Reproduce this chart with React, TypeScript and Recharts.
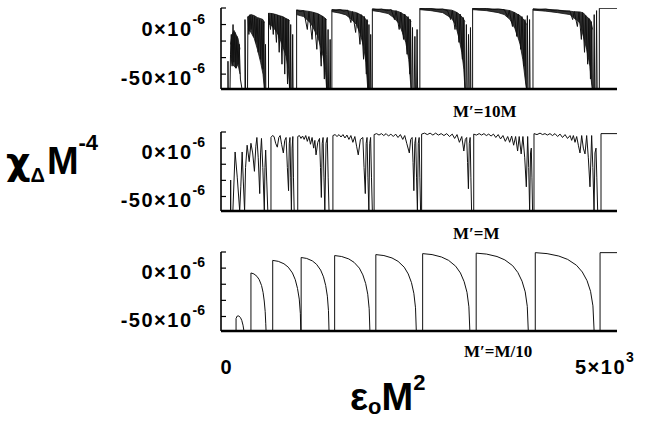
import React from 'react';
import { ComposedChart, Line, Area, XAxis, YAxis } from 'recharts';

// x in units of eps0*M^2, y in units of 1e-6 (chi_Delta * M^-4)

// M' = 10M : outline + spikes
const topLine: [number, number][] = [
  [0, -65], [88, -65], [88, -37], [90, -65], [114, -65], [120, -30], [130, -10], [140, -42], [152, 0], [162, -38],
  [175, -8], [188, -44], [200, -12], [215, -40], [230, -20], [245, -55], [265, -65], [303, -65], [303, 5], [310, -65],
  [335, -65], [340, 8], [352, -10], [366, 10], [380, -5], [395, 9], [410, -12], [425, 8], [440, -18], [455, 6],
  [470, -28], [485, 5], [500, -35], [515, 4], [530, -45], [540, 3], [548, -65], [556, -65], [562, -20], [566, -65],
  [600, -65], [600, 11.4], [625, -5], [640, 11], [660, -10], [675, 10], [700, -18], [715, 9.5], [735, -28], [750, 8.5],
  [770, -40], [785, 7.5], [805, -50], [820, 6], [840, -60], [850, 5], [858, -30], [866, -65], [875, -65], [880, 0],
  [886, -65], [900, -65], [905, -10], [910, -65], [955, -65],
  [955, 14.7], [1000, 13], [1044, 14], [1090, -5], [1110, 13], [1150, -15], [1170, 12], [1210, -25], [1230, 10.5], [1265, -42],
  [1280, 8.5], [1305, -55], [1318, 6], [1328, -30], [1333, -65], [1345, -65], [1352, -5], [1358, -65], [1372, -65], [1378, -15],
  [1384, -65], [1400, -65],
  [1400, 15], [1450, 14], [1500, 15], [1550, 13.5], [1600, 14.5], [1640, 2], [1660, 13], [1700, -8], [1720, 11.5], [1755, -20],
  [1770, 10], [1800, -35], [1812, 8], [1835, -50], [1845, 5], [1853, -65], [1862, -65], [1868, 0], [1874, -65], [1885, -65],
  [1890, -10], [1896, -65], [1911, -65],
  [1911, 15.7], [1970, 15], [2030, 15.5], [2090, 14], [2150, 15], [2190, 5], [2210, 14], [2250, -5], [2270, 12.5], [2305, -15],
  [2320, 10.5], [2350, -30], [2362, 8], [2385, -50], [2393, 5], [2400, -65], [2410, -65], [2418, -3], [2425, -65], [2440, -65],
  [2448, -12], [2455, -65], [2470, -65], [2476, -5], [2482, -65], [2511, -65],
  [2511, 16.4], [2580, 15.5], [2650, 16], [2720, 15], [2800, 15.5], [2860, 14], [2900, 5], [2920, 14], [2955, -5], [2975, 12.5],
  [3005, -18], [3020, 10.5], [3048, -35], [3060, 7], [3075, -55], [3080, -65], [3090, -65], [3098, 0], [3105, -65], [3118, -65],
  [3125, -10], [3132, -65], [3145, -65], [3150, -3], [3155, -65], [3177, -65],
  [3177, 16.4], [3260, 15.5], [3350, 16], [3430, 15], [3500, 15.5], [3577, 15], [3620, 8], [3640, 14], [3680, -2], [3700, 12.5],
  [3735, -12], [3752, 10.5], [3785, -25], [3800, 8], [3825, -42], [3838, 5], [3850, -58], [3858, -65], [3862, -65], [3868, 9],
  [3874, -65], [3890, -65], [3896, 5], [3902, -65], [3939, -65],
  [3939, 15.7], [4020, 15], [4100, 15.5], [4180, 14.5], [4250, 14.5], [4330, 13.5], [4406, 13.5], [4440, 5], [4460, 13], [4500, -2],
  [4520, 12.5], [4550, -15], [4565, 12], [4590, -28], [4605, 9], [4630, -40], [4645, 6], [4665, -55], [4675, 3], [4687, -65],
  [4705, -65], [4712, 10], [4718, -65], [4735, -65], [4742, 14], [4749, -65], [4777, -65], [4777, 16.4], [5000, 16.4],
];

// M' = 10M : dense oscillation bands [x, low, high]
const topBands: [number, number, number][][] = [
  [[120, -30, -20], [140, -40, -10], [165, -42, -6], [190, -44, -10], [215, -40, -14], [240, -50, -25]],
  [[340, -5, 8], [380, -8, 10], [420, -14, 9], [460, -25, 7], [500, -38, 6], [530, -50, 5], [548, -65, 2]],
  [[600, 1, 11.4], [650, -2, 11], [700, -7, 10], [733, -12, 9], [780, -22, 8], [822, -32, 6], [850, -45, 5], [866, -65, 4]],
  [[955, 10, 14.7], [1044, 8, 14], [1133, 1.4, 13], [1222, -12, 11], [1289, -32, 8], [1320, -48, 6], [1333, -65, 5]],
  [[1400, 13, 15], [1500, 11.5, 15], [1578, 9.7, 14.5], [1650, 5, 13], [1711, 0, 12], [1760, -10, 10], [1800, -22, 8], [1830, -38, 5], [1853, -65, 3]],
  [[1911, 14, 15.7], [2000, 13, 15.5], [2111, 11, 15], [2180, 7, 14], [2244, 1.4, 13], [2290, -8, 11], [2333, -18, 9], [2370, -35, 6], [2400, -65, 3]],
  [[2511, 15, 16.4], [2650, 14, 16], [2800, 12, 15.5], [2911, 6.4, 14.5], [2960, 0, 13], [3000, -12, 11], [3040, -28, 8], [3066, -45, 5], [3080, -65, 3]],
  [[3177, 15, 16.4], [3350, 14, 16], [3500, 12, 15.5], [3577, 10, 15], [3650, 5, 14], [3711, -4, 12], [3750, -13, 10], [3777, -20, 9], [3810, -35, 6], [3840, -55, 3], [3858, -65, 0]],
  [[3939, 14.5, 15.7], [4100, 13.5, 15.5], [4250, 12, 14.5], [4406, 10, 13.5], [4450, 7, 13], [4533, 1.7, 12.7], [4575, -12, 11.7], [4617, -25, 8], [4659, -42, 5], [4680, -60, 0], [4693, -65, -5]],
];

// M' = M
const midLine: [number, number][] = [
  [0, -65], [120, -65], [122, -33], [124, -65], [150, -65], [178, -4], [205, -30], [236, -65], [250, -40], [267, -4],
  [282, -35], [298, -65], [310, -20], [330, 3], [356, -14], [378, 5], [400, -5], [422, -24], [440, 2], [453, 11],
  [470, -10], [489, -47], [500, -5], [511, 10], [528, -20], [547, -65], [555, -20], [564, -2], [578, -35], [591, -65],
  [631, -65], [631, 11], [650, 13], [670, 12], [690, 5], [711, 1], [730, 11], [747, 13], [765, 4], [787, -5],
  [805, 8], [822, 11], [838, -20], [853, -44], [862, 5], [871, 11], [880, -30], [889, -65], [898, 0], [907, 12],
  [915, -30], [924, -65], [969, -65],
  [969, 12], [990, 13], [1010, 10], [1030, 12.5], [1050, 9], [1070, 13], [1090, 7], [1110, 12], [1130, 4], [1150, 11],
  [1170, 0], [1185, 8], [1200, -7], [1222, 6], [1244, 10], [1256, -20], [1267, -51], [1278, 5], [1289, 11], [1300, -30],
  [1311, -65], [1326, 5], [1342, 11], [1353, -30], [1364, -65], [1413, -65],
  [1413, 13], [1440, 14], [1465, 12], [1490, 14], [1515, 11.5], [1540, 14], [1565, 10.5], [1590, 13.5], [1615, 9], [1640, 13],
  [1665, 6], [1690, 12], [1712, 2], [1733, -7], [1760, 9], [1791, 11], [1806, -20], [1822, -47], [1833, 5], [1844, 11],
  [1855, -30], [1867, -65], [1878, 5], [1889, 11], [1900, -30], [1911, -65], [1933, -65],
  [1933, 14], [1965, 15], [1995, 13.5], [2025, 15], [2055, 13], [2085, 15], [2115, 12.5], [2145, 14.5], [2175, 12], [2205, 14.5],
  [2235, 11], [2265, 14], [2295, 9], [2320, 13], [2345, 5], [2378, -5], [2395, 9], [2413, 11], [2425, -15], [2435, -44],
  [2447, 5], [2458, 11], [2469, -30], [2480, -65], [2491, 5], [2502, 11], [2511, -30], [2520, -65], [2533, -65],
  [2533, 14.5], [2570, 15.5], [2605, 14], [2640, 15.5], [2675, 13.5], [2710, 15.5], [2745, 13.5], [2780, 15], [2815, 13], [2850, 15],
  [2885, 12], [2920, 14.5], [2950, 10], [2980, 14], [3010, 6], [3040, 12], [3066, -3], [3085, 9], [3102, 11], [3113, -15],
  [3124, -42], [3135, 5], [3146, 11], [3155, -30], [3164, -65], [3191, -65],
  [3191, 14.5], [3225, 13.5], [3260, 15], [3290, 13.5], [3320, 15], [3350, 13], [3380, 14.5], [3410, 12.5], [3440, 14.5], [3470, 11],
  [3500, 14], [3530, 9.5], [3560, 13], [3590, 7], [3620, 12], [3645, 6], [3670, 12.5], [3695, 3], [3720, 12], [3745, -3],
  [3765, 12], [3790, -6], [3812, 12], [3835, -10], [3855, -40], [3872, 12], [3885, -20], [3897, -65], [3908, -5], [3918, 0],
  [3926, -30], [3934, -65], [3952, -65],
  [3952, 15], [3990, 14], [4028, 15.5], [4060, 14], [4091, 15], [4120, 13.5], [4154, 15], [4185, 13], [4217, 15], [4250, 12],
  [4281, 14.5], [4312, 11], [4344, 14], [4375, 10], [4407, 13], [4428, 8], [4449, 13], [4470, 6], [4491, 12], [4512, 3],
  [4533, -5], [4554, 13], [4575, 0], [4596, -6], [4617, 13], [4638, -10], [4659, -40], [4680, 13], [4695, -20], [4710, -65],
  [4722, -5], [4735, 0], [4745, -30], [4756, -65], [4798, -65], [4798, 15], [5000, 15],
];

// M' = M/10
const lowLine: [number, number][] = [
  [0, -65], [190, -65], [190, -52], [205, -49.5], [225, -49.5], [245, -51], [262, -54], [278, -59], [290, -65],
  [378, -65], [378, -5], [416, -6], [454, -8.5], [483, -12], [512, -18], [531, -25], [546, -34], [558, -45], [565, -57], [569, -65],
  [653, -65], [653, 8], [724, 7], [795, 4.5], [849, 1], [902, -5], [938, -12], [966, -21], [988, -32], [1002, -47], [1007, -65],
  [1012, -65], [1012, 11], [1082, 10], [1153, 7.5], [1206, 4], [1258, -2], [1294, -9], [1322, -18], [1343, -29], [1357, -44], [1364, -65],
  [1435, -65], [1435, 13], [1524, 12], [1613, 9.5], [1680, 6], [1747, 0], [1791, -7], [1827, -16], [1853, -27], [1871, -42], [1880, -65],
  [1955, -65], [1955, 14], [2057, 13], [2159, 10.5], [2236, 7], [2313, 1], [2364, -6], [2405, -15], [2435, -26], [2456, -41], [2466, -65],
  [2546, -65], [2546, 15], [2665, 14], [2784, 11.5], [2874, 8], [2963, 2], [3023, -5], [3070, -14], [3106, -25], [3130, -40], [3142, -65],
  [3222, -65], [3222, 15.5], [3354, 14.5], [3485, 12], [3584, 8.5], [3683, 2.5], [3748, -4.5], [3801, -13.5], [3841, -24.5], [3867, -39.5], [3880, -65],
  [3968, -65], [3968, 16], [4117, 15], [4265, 12.5], [4377, 9], [4488, 3], [4562, -4], [4622, -13], [4666, -24], [4696, -39], [4711, -65],
  [4786, -65], [4786, 16], [5000, 16],
];

const yTicks = [16.67, 0, -16.67, -33.33, -50];
const xTicks = [0, 5000];
const panelLabels = ["M′=10M", "M′=M", "M′=M/10"];

const sans = 'Liberation Sans, Arial, sans-serif';
const serif = 'Liberation Serif, Times New Roman, serif';

const toPts = (arr: [number, number][]) => arr.map(([x, y]) => ({ x, y }));

const YTick = (props: any) => {
  const { x, y, payload } = props;
  const v = payload.value;
  const label = v === 0 ? '0×10' : v === -50 ? '-50×10' : null;
  return (
    <g>
      <line x1={x} x2={x + 5} y1={y} y2={y} stroke="#000" strokeWidth={1.2} />
      {label && (
        <text x={x - 16} y={y + 11} textAnchor="end" fontFamily={sans} fontWeight="bold" fontSize={20} letterSpacing={1.5} fill="#000">
          {label}
          <tspan dy={-12} fontSize={14} letterSpacing={0}>-6</tspan>
        </text>
      )}
    </g>
  );
};

const XTick = (props: any) => {
  const { x, y, payload } = props;
  if (payload.value === 0) {
    return (
      <text x={x + 5} y={y + 43} textAnchor="middle" fontFamily={sans} fontWeight="bold" fontSize={20} fill="#000">0</text>
    );
  }
  return (
    <text x={x - 42} y={y + 43} textAnchor="start" fontFamily={sans} fontWeight="bold" fontSize={20} letterSpacing={1.5} fill="#000">
      5×10
      <tspan dy={-12} fontSize={14} letterSpacing={0}>3</tspan>
    </text>
  );
};

type PanelProps = {
  top: number;
  height: number;
  mTop: number;
  mBottom: number;
  line: [number, number][];
  bands?: [number, number, number][][];
  showX?: boolean;
};

const Panel = ({ top, height, mTop, mBottom, line, bands, showX }: PanelProps) => (
  <div style={{ position: 'absolute', left: 0, top }}>
    <ComposedChart width={653} height={height} margin={{ top: mTop, right: 36, bottom: mBottom, left: 161 }}>
      <XAxis
        type="number"
        dataKey="x"
        domain={[0, 5000]}
        allowDataOverflow
        ticks={xTicks}
        tick={showX ? <XTick /> : false}
        tickLine={false}
        tickSize={0}
        tickMargin={0}
        height={showX ? 40 : 2}
        axisLine={{ stroke: '#000', strokeWidth: 2.5 }}
      />
      <YAxis
        type="number"
        domain={[-65, 16.67]}
        allowDataOverflow
        ticks={yTicks}
        interval={0}
        width={60}
        tick={<YTick />}
        tickLine={false}
        tickSize={0}
        tickMargin={0}
        axisLine={{ stroke: '#000', strokeWidth: 1.6 }}
      />
      {bands &&
        bands.map((b, i) => (
          <Area
            key={i}
            data={b.map(([x, lo, hi]) => ({ x, band: [lo, hi] }))}
            dataKey="band"
            type="linear"
            stroke="#111"
            strokeWidth={0.8}
            fill="#111"
            fillOpacity={0.85}
            isAnimationActive={false}
          />
        ))}
      <Line
        data={toPts(line)}
        dataKey="y"
        type="linear"
        stroke="#111"
        strokeWidth={1}
        dot={false}
        activeDot={false}
        isAnimationActive={false}
      />
    </ComposedChart>
  </div>
);

export default function App() {
  return (
    <div style={{ position: 'absolute', left: 0, top: 0, width: 653, height: 421, background: '#fff', overflow: 'hidden' }}>
      <Panel top={0} height={100} mTop={8} mBottom={9} line={topLine} bands={topBands} />
      <Panel top={120} height={100} mTop={12} mBottom={7} line={midLine} />
      <Panel top={240} height={150} mTop={12} mBottom={19} line={lowLine} showX />
      <svg width={653} height={421} style={{ position: 'absolute', left: 0, top: 0, pointerEvents: 'none' }}>
        <text x={6} y={174} fontFamily={sans} fontWeight="bold" fontSize={38} fill="#000">
          <tspan fontFamily="DejaVu Sans">χ</tspan>
          <tspan fontSize={20} dy={8}>Δ</tspan>
          <tspan dy={-8} dx={2}>M</tspan>
          <tspan fontSize={22} dy={-24}>-4</tspan>
        </text>
        <text x={350} y={410} fontFamily={sans} fontWeight="bold" fontSize={38} fill="#000">
          ε
          <tspan fontSize={22} dy={4}>o</tspan>
          <tspan dy={-4}>M</tspan>
          <tspan fontSize={22} dy={-20}>2</tspan>
        </text>
        <text x={453} y={117} fontFamily={serif} fontWeight="bold" fontSize={17} fill="#000">{panelLabels[0]}</text>
        <text x={453} y={239} fontFamily={serif} fontWeight="bold" fontSize={17} fill="#000">{panelLabels[1]}</text>
        <text x={464} y={357} fontFamily={serif} fontWeight="bold" fontSize={17} fill="#000">{panelLabels[2]}</text>
      </svg>
    </div>
  );
}
